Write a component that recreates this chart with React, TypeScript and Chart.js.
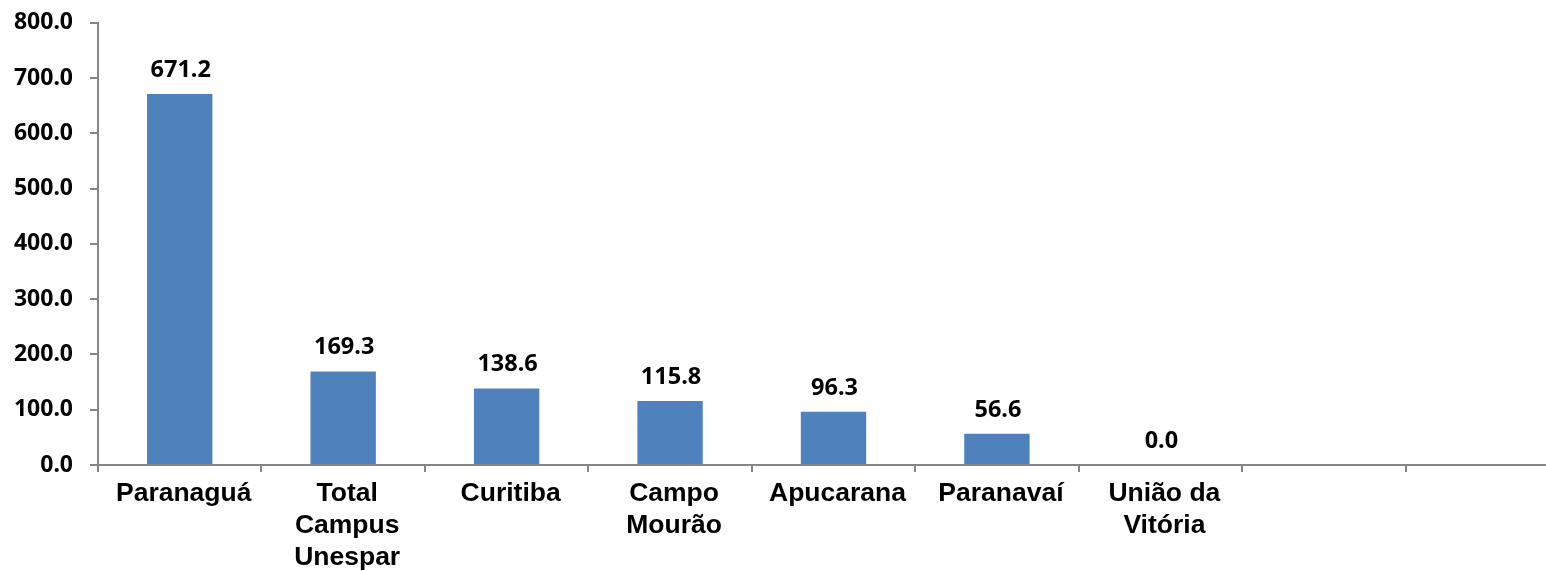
import React, { useEffect, useRef } from "react";
import { Chart, registerables } from "chart.js";

Chart.register(...registerables);

const categories: (string | string[])[] = [
  "Paranaguá",
  ["Total", "Campus", "Unespar"],
  "Curitiba",
  ["Campo", "Mourão"],
  "Apucarana",
  "Paranavaí",
  ["União da", "Vitória"],
  "",
  "",
];
const values: (number | null)[] = [671.2, 169.3, 138.6, 115.8, 96.3, 56.6, 0.0, null, null];
const yTicks = [0, 100, 200, 300, 400, 500, 600, 700, 800];

const AXIS = "#868686";
const BAR = "#4F81BD";
const NUM_FONT = '"Noto Sans"';
const CAT_FONT = '"Liberation Sans"';

const valueLabels = {
  id: "valueLabels",
  afterDatasetsDraw(chart: any) {
    const ctx = chart.ctx;
    const meta = chart.getDatasetMeta(0);
    ctx.save();
    ctx.font = `bold 23.5px ${NUM_FONT}`;
    ctx.fillStyle = "#000";
    ctx.textAlign = "center";
    ctx.textBaseline = "alphabetic";
    meta.data.forEach((bar: any, i: number) => {
      const v = values[i];
      if (v === null || v === undefined) return;
      ctx.fillText(v.toFixed(1), bar.x + 1, bar.y - 17);
    });
    ctx.restore();
  },
};

// nudge category labels slightly right, as in the reference
const labelNudge = {
  id: "labelNudge",
  beforeDraw(chart: any) {
    const s = chart.scales.x;
    if (!s || typeof s.getLabelItems !== "function") return;
    const items = s.getLabelItems(chart.chartArea);
    if (items && !(items as any)._nudged) {
      items.forEach((it: any) => {
        if (it.options && it.options.translation) it.options.translation[0] += 4;
      });
      (items as any)._nudged = true;
    }
  },
};

export default function App() {
  const ref = useRef<HTMLCanvasElement | null>(null);
  useEffect(() => {
    let chart: Chart | null = null;
    let cancelled = false;
    const make = () => {
      if (cancelled || !ref.current) return;
      chart = new Chart(ref.current, {
        type: "bar",
        data: {
          labels: categories as any,
          datasets: [
            {
              data: values as any,
              backgroundColor: BAR,
              borderWidth: 0,
              barPercentage: 0.4,
              categoryPercentage: 1,
            },
          ],
        },
        options: {
          animation: false,
          responsive: false,
          devicePixelRatio: 1,
          layout: { padding: { top: 0, right: 11, left: 0, bottom: 0 } },
          plugins: { legend: { display: false }, tooltip: { enabled: false } },
          scales: {
            x: {
              grid: {
                display: true,
                drawOnChartArea: false,
                drawTicks: true,
                tickLength: 7,
                color: AXIS,
                lineWidth: 2,
              },
              border: { display: true, color: AXIS, width: 2 },
              ticks: {
                color: "#000",
                autoSkip: false,
                maxRotation: 0,
                padding: 6,
                font: { family: CAT_FONT, weight: "bold", size: 26.5, lineHeight: 1.2 },
              },
              afterFit(scale: any) {
                scale.height = 106;
              },
            },
            y: {
              min: 0,
              max: 800,
              afterBuildTicks(scale: any) {
                scale.ticks = yTicks.map((v) => ({ value: v }));
              },
              grid: {
                display: true,
                drawOnChartArea: false,
                drawTicks: true,
                tickLength: 8,
                color: AXIS,
                lineWidth: 2,
              },
              border: { display: true, color: AXIS, width: 2 },
              ticks: {
                color: "#000",
                padding: 17,
                font: { family: NUM_FONT, weight: "bold", size: 23 },
                callback: (v: any) => Number(v).toFixed(1),
              },
              afterFit(scale: any) {
                scale.width = 98;
              },
            },
          },
        },
        plugins: [labelNudge, valueLabels],
      });
    };
    const fonts = (document as any).fonts;
    if (fonts && fonts.load) {
      Promise.all([
        fonts.load(`bold 23px ${NUM_FONT}`),
        fonts.load(`bold 26.5px ${CAT_FONT}`),
      ])
        .catch(() => null)
        .then(make);
    } else {
      make();
    }
    return () => {
      cancelled = true;
      if (chart) chart.destroy();
    };
  }, []);
  return (
    <div
      style={{
        position: "fixed",
        left: 0,
        top: 0,
        width: 1546,
        height: 571,
        overflow: "hidden",
        background: "#fff",
      }}
    >
      <canvas
        ref={ref}
        width={1580}
        height={579}
        style={{ display: "block", marginTop: -8 }}
      />
    </div>
  );
}
